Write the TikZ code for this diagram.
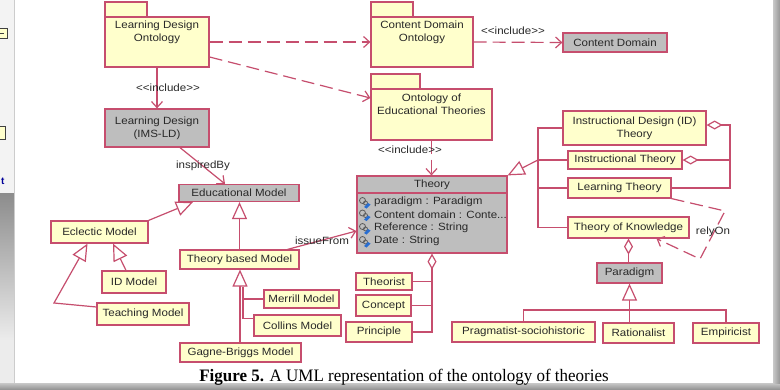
\documentclass[tikz,border=0pt]{standalone}
\usepackage{fontspec}
\setmainfont{Liberation Sans}
\newfontfamily\umlfont[FakeStretch=1.1]{Liberation Sans}
\newfontfamily\capfont[FakeStretch=0.97]{Liberation Serif}
\usetikzlibrary{arrows.meta}

\definecolor{umlline}{RGB}{198,78,110}
\definecolor{umlyellow}{RGB}{255,255,204}
\definecolor{umlgrey}{RGB}{190,190,190}
\definecolor{umltext}{RGB}{40,40,40}
\definecolor{framegrey}{RGB}{175,175,175}
\definecolor{stripgrey}{RGB}{243,243,243}
\definecolor{stripdark}{RGB}{140,140,140}
\definecolor{striplight}{RGB}{236,236,236}
\definecolor{barlight}{RGB}{200,200,200}
\definecolor{bardark}{RGB}{150,150,150}
\definecolor{iconblue}{RGB}{40,110,210}

\tikzset{
  umlbox/.style={draw=umlline, line width=1.2pt, fill=umlyellow, inner sep=0pt,
    text=umltext, font=\umlfont\fontsize{10.5}{13}\selectfont, align=center},
  greybox/.style={umlbox, fill=umlgrey},
  pkgtab/.style={draw=umlline, line width=1.2pt, fill=umlyellow},
  txt/.style={text=umltext, font=\umlfont\fontsize{10.5}{13}\selectfont, align=center, inner sep=1pt},
  lnk/.style={draw=umlline, line width=1.2pt},
  dep/.style={lnk, dash pattern=on 13pt off 6pt, -{Straight Barb[length=6pt,width=11pt]}},
  inc/.style={lnk, -{Straight Barb[length=6pt,width=11pt]}},
  gen/.style={lnk, -{Triangle[length=17pt,width=15pt,fill=white]}},
  agg/.style={lnk, {Diamond[length=16pt,width=9pt,fill=white]}-},
  attricon/.pic={
    \draw[gray!70!black, line width=0.8pt] (-1.5,-1.5) circle[radius=3pt];
    \draw[gray!70!black, line width=0.8pt] (1.5,1) circle[radius=2pt];
    \fill[iconblue] (0,5) -- (4,1) -- (6.5,2.5) -- (2.5,6.5) -- cycle;
  }
}

\begin{document}
\begin{tikzpicture}[x=1pt,y=-1pt]
\useasboundingbox (0,0) rectangle (780,389);

% page frame and window edges
\fill[framegrey] (0,0) rectangle (780,389);
\fill[white] (14,0) rectangle (773,383);
\fill[stripgrey] (0,0) rectangle (14,193);
\shade[top color=stripdark, bottom color=striplight] (0,193) rectangle (14,340);
\fill[striplight] (0,340) rectangle (14,383);
\draw[gray!40] (14,0) -- (14,383);
\shade[top color=barlight, bottom color=bardark] (0,383) rectangle (780,389);
\shade[left color=barlight, right color=bardark] (773,0) rectangle (780,383);
\begin{scope}
  \clip (0,0) rectangle (14,193);
  \draw[fill=umlyellow, draw=gray!50!black, line width=0.8pt] (-4,28) rectangle (7,38);
  \draw[gray!50!black, line width=0.6pt] (0,33) -- (4,33);
  \draw[fill=umlyellow, draw=gray!50!black, line width=0.8pt] (-4,126) rectangle (5,139);
\end{scope}
\node[text=blue!60!black, font=\bfseries\fontsize{10}{10}\selectfont, inner sep=0pt, anchor=west] (sideT) at (1,181) {t};

% packages
\draw[pkgtab] (105,2) rectangle (147,17);
\node[umlbox, minimum width=104pt, minimum height=50pt] (ldo) at (157,42) {};
\node[txt, anchor=north] (ldoName) at ([yshift=-3pt]ldo.north) {Learning Design\\Ontology};

\draw[pkgtab] (371,2) rectangle (413,17);
\node[umlbox, minimum width=102pt, minimum height=50pt] (cdo) at (422,42) {};
\node[txt, anchor=north] (cdoName) at ([yshift=-3pt]cdo.north) {Content Domain\\Ontology};

\draw[pkgtab] (371,74) rectangle (420,89);
\node[umlbox, minimum width=121pt, minimum height=51pt] (oet) at (431.5,114.5) {};
\node[txt, anchor=north] (oetName) at ([yshift=-4pt]oet.north) {Ontology of\\Educational Theories};

% classes
\node[greybox, minimum width=104pt, minimum height=19pt] (cd) at (615,42.5) {Content Domain};
\node[greybox, minimum width=104pt, minimum height=38pt] (ims) at (157,128) {Learning Design\\(IMS-LD)};
\node[greybox, minimum width=120pt, minimum height=17pt] (edu) at (239,193) {Educational Model};

\node[greybox, minimum width=150pt, minimum height=77pt] (theory) at (432,214.5) {};
\draw[lnk] (357,193) -- (507,193);
\node[txt] (theoryName) at (432,184.5) {Theory};
\pic at (364,202) {attricon};
\pic at (364,214.5) {attricon};
\pic at (364,228) {attricon};
\pic at (364,241) {attricon};
\node[txt, anchor=west] (attrA) at (373,202) {paradigm : Paradigm};
\node[txt, anchor=west] (attrB) at (373,214.5) {Content domain : Conte...};
\node[txt, anchor=west] (attrC) at (373,228) {Reference : String};
\node[txt, anchor=west] (attrD) at (373,241) {Date : String};

\node[umlbox, minimum width=56pt, minimum height=17pt] (thr) at (384,281.5) {Theorist};
\node[umlbox, minimum width=55pt, minimum height=21pt] (con) at (383.5,305.5) {Concept};
\node[umlbox, minimum width=66pt, minimum height=20pt] (pri) at (379,332) {Principle};

\node[umlbox, minimum width=143pt, minimum height=34pt] (idt) at (634.5,128) {Instructional Design (ID)\\Theory};
\node[umlbox, minimum width=114pt, minimum height=18pt] (it) at (625,160) {Instructional Theory};
\node[umlbox, minimum width=103pt, minimum height=20pt] (lt) at (619.5,188) {Learning Theory};
\node[umlbox, minimum width=121pt, minimum height=21pt] (tok) at (628.5,227.5) {Theory of Knowledge};
\node[greybox, minimum width=65pt, minimum height=20pt] (para) at (629.5,273) {Paradigm};
\node[umlbox, minimum width=143pt, minimum height=20pt] (prag) at (523.5,332) {Pragmatist-sociohistoric};
\node[umlbox, minimum width=71pt, minimum height=20pt] (rat) at (638.5,333) {Rationalist};
\node[umlbox, minimum width=66pt, minimum height=20pt] (emp) at (726,333) {Empiricist};

\node[umlbox, minimum width=97pt, minimum height=22pt] (ecl) at (99.5,232) {Eclectic Model};
\node[umlbox, minimum width=64pt, minimum height=22pt] (idm) at (134,282) {ID Model};
\node[umlbox, minimum width=92pt, minimum height=22pt] (tm) at (143,314) {Teaching Model};
\node[umlbox, minimum width=119pt, minimum height=19pt] (tbm) at (239.5,259.5) {Theory based Model};
\node[umlbox, minimum width=75pt, minimum height=18pt] (mer) at (301.5,299) {Merrill Model};
\node[umlbox, minimum width=87pt, minimum height=21pt] (col) at (297.5,325.5) {Collins Model};
\node[umlbox, minimum width=121pt, minimum height=19pt] (gb) at (240.5,352.5) {Gagne-Briggs Model};

% dependencies between packages
\draw[dep] (ldo.east) -- (cdo.west);
\draw[dep] ([yshift=-15pt]ldo.east) -- ([yshift=16.5pt]oet.west);
\draw[dep] (cdo.east) -- (cd.west);
\draw[inc] (ldo.south) -- (ims.north);
\draw[dep] (oet.south) -- (oet.south |- theory.north);

% educational models
\draw[inc] ([xshift=23pt]ims.south) -- ([xshift=-14pt]edu.north);
\draw[gen] (ecl.north east) -- ([xshift=-46pt]edu.south);
\draw[gen] (tbm.north) -- (tbm.north |- edu.south);
\draw[gen] ([xshift=-8pt]idm.north) -- ([xshift=13.5pt]ecl.south);
\coordinate (tmBend) at (54,303);
\draw[gen] ([yshift=7pt]tm.west) -- (tmBend) -- ([xshift=-12pt]ecl.south);

\coordinate (tbmBase) at (240,287);
\coordinate (tbmJ) at (243,287);
\coordinate (colIn) at ([yshift=7pt]col.west);
\draw[lnk] (mer.west) -- (mer.west -| tbmJ) -- (tbmJ);
\draw[lnk] (colIn) -- (colIn -| tbmJ) -- (tbmJ);
\draw[gen] (gb.north -| tbmBase) -- (tbmBase |- tbm.south);
\draw[inc] ([xshift=48pt]tbm.north) -- ([yshift=-16.5pt]theory.west);

% parts of a theory
\coordinate (aggBus) at (theory.south |- pri.east);
\draw[agg] (theory.south) -- (aggBus) -- (pri.east);
\draw[lnk] (thr.east) -- (thr.east -| theory.south);
\draw[lnk] (con.east) -- (con.east -| theory.south);

% kinds of theory
\coordinate (trunk) at (538,160);
\draw[lnk] (idt.west) -- (idt.west -| trunk) -- (tok.west -| trunk) -- (tok.west);
\draw[lnk] (it.west) -- (it.west -| trunk);
\draw[lnk] (lt.west) -- (lt.west -| trunk);
\draw[gen] (trunk) -- (theory.north east);

\coordinate (aggR) at (730,125);
\coordinate (idtAgg) at ([yshift=3pt]idt.east);
\draw[agg] (idtAgg) -- (idtAgg -| aggR) -- (lt.east -| aggR) -- (lt.east);
\draw[agg] (it.east) -- (it.east -| aggR);

% knowledge and paradigms
\draw[agg] (tok.south) -- (tok.south |- para.north);
\coordinate (paraBus) at (629.5,310);
\draw[gen] (paraBus |- rat.north) -- (para.south);
\draw[lnk] (prag.north) -- (prag.north |- paraBus) -- (emp.north |- paraBus) -- (emp.north);

\coordinate (relyA) at (725,211);
\coordinate (relyB) at (700,259);
\draw[dep] (lt.south east) -- (relyA) -- (relyB) -- ([xshift=28pt]tok.south);

% connector labels
\node[txt] (incA) at (168,88) {{<}{<}include{>}{>}};
\node[txt] (incB) at (513,31) {{<}{<}include{>}{>}};
\node[txt] (incC) at (410,150) {{<}{<}include{>}{>}};
\node[txt] (inspired) at (203,166) {inspiredBy};
\node[txt] (issue) at (322,241) {issueFrom};
\node[txt] (rely) at (713,232) {relyOn};

% caption
\node[font=\capfont\fontsize{17.5}{20}\selectfont, text=black, anchor=base, inner sep=0pt] (caption) at (404,381)
  {\textbf{Figure 5.} A UML representation of the ontology of theories};
\end{tikzpicture}
\end{document}
